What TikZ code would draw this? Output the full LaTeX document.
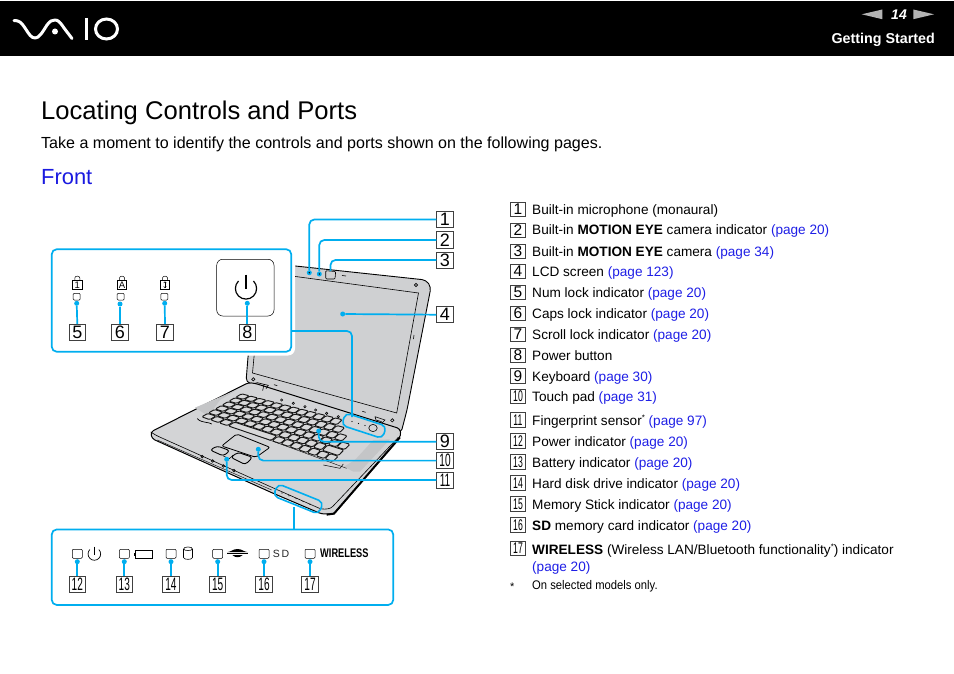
\documentclass[tikz,border=0pt]{standalone}
\usepackage{fontspec}
\setmainfont{Liberation Sans}
\usepackage{graphicx}
\definecolor{cy}{HTML}{00AEEF}
\definecolor{lnk}{HTML}{1F1FE6}
\definecolor{frontblue}{HTML}{1A1AE0}
\definecolor{lcd}{HTML}{CFD0D2}
\definecolor{deck}{HTML}{D3D4D6}
\definecolor{grille}{HTML}{C4C5C7}
\definecolor{keyc}{HTML}{D8D8D9}
\definecolor{navg}{HTML}{B4B4B4}
\newcommand{\lk}[1]{\textcolor{lnk}{#1}}
\newcommand{\nr}[1]{\scalebox{.56}[1]{#1}}
\tikzset{
  x=1pt,y=-1pt,
  numbig/.style={draw=black!75,fill=white,line width=1pt,minimum width=16.5pt,minimum height=16pt,inner sep=0pt,font=\fontsize{18}{18}\selectfont},
  numsm/.style={draw=black!75,fill=white,line width=.9pt,minimum width=14.5pt,minimum height=14.5pt,inner sep=0pt,font=\fontsize{15.5}{15.5}\selectfont},
  ltext/.style={anchor=base west,inner sep=0pt,font=\fontsize{13.6}{13.6}\selectfont},
  leader/.style={draw=cy,line width=1.7pt,rounded corners=5pt},
  leaddot/.style={circle,fill=cy,inner sep=0pt,minimum size=5pt},
  panelbox/.style={draw=cy,fill=white,line width=1.7pt,rounded corners=5pt,inner sep=0pt},
  ledbox/.style={draw=black,line width=.5pt,fill=white,rounded corners=1pt,inner sep=0pt},
  oval/.style={draw=cy,line width=1.6pt,rounded corners=5pt,inner sep=0pt},
  hl/.style={draw=black,line width=.6pt},
  keyb/.style={draw=black!90,fill=keyc,line width=.95pt,rounded corners=1.3pt},
  declare function={
    kx(\u,\v)=(1-\v)*((1-\u)*241.7+\u*368.3)+\v*((1-\u)*201+\u*333);
    ky(\u,\v)=(1-\v)*((1-\u)*393.5+\u*426)+\v*((1-\u)*417+\u*462);
  }
}
\begin{document}
\begin{tikzpicture}[x=1pt,y=-1pt]
\useasboundingbox (0,0) rectangle (954,674);
\fill[white] (0,0) rectangle (954,674);
% header
\fill[black] (0,1) rectangle (954,56);
\draw[white,line width=3pt,line cap=round,line join=round] (14,20.5) .. controls (19,20.5) and (21,22) .. (25,28) .. controls (29,34) and (31,38) .. (35,38) .. controls (39,38) and (42,33) .. (47,25) .. controls (50,21) and (52,20) .. (55,20) .. controls (58,20) and (60,22) .. (64,28) -- (72,38.5);
\fill[white] (55,31.5) circle (3);
\draw[white,line width=3pt] (86,18) -- (86,40);
\draw[white,line width=3pt] (106.5,29) ellipse (11 and 10);
\fill[navg] (861.7,14.3) -- (882.3,9.5) -- (882.3,19.2) -- cycle;
\fill[navg] (934,14.3) -- (913.3,9.5) -- (913.3,19.2) -- cycle;
\node[white,inner sep=0pt,font=\fontsize{14}{14}\selectfont\bfseries\itshape] (pg) at (899,14.5) {14};
\node[white,anchor=base east,inner sep=0pt,font=\fontsize{14.3}{14.3}\selectfont\bfseries] (gs) at (935,43.5) {Getting Started};
% titles
\node[anchor=base west,inner sep=0pt,font=\fontsize{25.6}{25.6}\selectfont] (title) at (41,119.5) {Locating Controls and Ports};
\node[anchor=base west,inner sep=0pt,font=\fontsize{16.05}{16.05}\selectfont] (intro) at (41,148.5) {Take a moment to identify the controls and ports shown on the following pages.};
\node[anchor=base west,inner sep=0pt,text=frontblue,font=\fontsize{21.9}{21.9}\selectfont] (front) at (41,184.5) {Front};
% list
\foreach \n/\c/\b/\t in {
 1/209.5/214.5/{Built-in microphone (monaural)},
 2/230.5/235/{Built-in \textbf{MOTION EYE} camera indicator \lk{(page 20)}},
 3/251.5/256/{Built-in \textbf{MOTION EYE} camera \lk{(page 34)}},
 4/271.5/276.5/{LCD screen \lk{(page 123)}},
 5/292.5/297/{Num lock indicator \lk{(page 20)}},
 6/313.5/318/{Caps lock indicator \lk{(page 20)}},
 7/334.5/339/{Scroll lock indicator \lk{(page 20)}},
 8/355.5/360/{Power button},
 9/376/381/{Keyboard \lk{(page 30)}}}
 {\node[numsm] (l\n) at (518,\c) {\n};
  \node[ltext] (t\n) at (532,\b) {\t};}
\foreach \n/\c/\b/\t in {
 10/396.3/401.5/{Touch pad \lk{(page 31)}},
 11/420/425.5/{Fingerprint sensor\raisebox{5pt}{\fontsize{8}{8}\selectfont*} \lk{(page 97)}},
 12/441/446/{Power indicator \lk{(page 20)}},
 13/462/467/{Battery indicator \lk{(page 20)}},
 14/483/488/{Hard disk drive indicator \lk{(page 20)}},
 15/504/509/{Memory Stick indicator \lk{(page 20)}},
 16/525/530/{\textbf{SD} memory card indicator \lk{(page 20)}},
 17/548.5/554/{\textbf{WIRELESS} (Wireless LAN/Bluetooth functionality\raisebox{5pt}{\fontsize{8}{8}\selectfont*}) indicator}}
 {\node[numsm] (l\n) at (518,\c) {\nr{\n}};
  \node[ltext] (t\n) at (532,\b) {\t};}
\node[ltext] (t17b) at (532,571) {\lk{(page 20)}};
\node[anchor=base west,inner sep=0pt,font=\fontsize{11}{11}\selectfont] (star) at (510,590) {*};
\node[anchor=base west,inner sep=0pt,font=\fontsize{12.5}{12.5}\selectfont] (fn) at (532,589.5) {\scalebox{.9}[1]{On selected models only.}};
% laptop lid
\fill[lcd,draw=black,line width=.9pt,rounded corners=4pt] (258,262) -- (426,280) -- (431,287) -- (407,410) -- (401,433) -- (246,382) -- (248,357) -- cycle;
\draw[black,line width=.6pt] (262,272) -- (418.5,293) -- (396.7,413) -- (252.5,373) -- cycle;
\draw[hl] (416,285) circle (1.6);
\draw[hl] (342,275.5) -- (346,276);
\draw[hl] (414,335) -- (413.5,339);
% laptop base
\begin{scope}[shift={(140,340)},x=.3333pt,y=-.3333pt]
 \fill[deck,draw=black,line width=1pt,rounded corners=3pt] (32,276) -- (325,128) -- (345,130) -- (780,266) -- (783,287) -- (582,522) -- (545,522) -- (395,458) -- (36,296) -- cycle;
 \draw[black,line width=.6pt,rounded corners=3pt] (32,276) -- (50,287) -- (400,444) -- (545,508) -- (572,506) -- (775,292);
 \draw[black,line width=.4pt] (52,300) -- (395,450);
 \draw[black,line width=2pt] (560,524) -- (582,521) -- (780,292);
 \fill[grille] (165,203) -- (290,150) -- (240,180) -- (205,228) -- cycle;
 \fill[grille] (612,380) -- (645,360) -- (700,300) -- (750,298) -- (660,395) -- (640,395) -- cycle;
 \draw[black,line width=.4pt] (225,240) -- (620,385);
 % hinge left and dash
 \draw[hl] (345,130) -- (352,128) -- (372,133) -- (368,152) (372,133) -- (385,136) -- (378,146);
 \draw[hl] (340,118) circle (5);
 \draw[hl] (402,134) -- (412,137);
 % hinge right etc.
 \draw[hl] (705,230) -- (735,240) -- (725,250) (705,230) -- (708,240) -- (725,245);
 \draw[hl] (667,214) -- (677,217);
 \draw[hl] (757,241) circle (5);
 \foreach \i/\j in {425/180,460/190,495/200,527/210,560/220,595/230}{\draw[hl] (\i,\j) circle (3.5);}
 \draw[black,line width=.7pt,line cap=round] (172,236) .. controls (180,245) and (190,245) .. (197,247) .. controls (205,250) and (210,247) .. (215,252);
 % touchpad
 \draw[black,line width=.8pt,rounded corners=2pt,fill=deck] (290,282) -- (390,322) -- (348,352) -- (245,318) -- cycle;
 \draw[black,line width=.9pt,rounded corners=3pt,fill=deck] (210,330) -- (232,318) -- (270,332) -- (250,348) -- cycle;
 \draw[black,line width=.9pt,rounded corners=3pt,fill=deck] (272,352) -- (294,337) -- (338,352) -- (316,374) -- cycle;
 \draw[black,line width=.5pt] (250,348) -- (268,356) -- (280,345);
 % front details
 \foreach \i/\j in {187/350,218/363,250/378,282/392}{\draw[hl] (\i,\j) circle (4);}
 \draw[black,line width=.5pt] (550,375) -- (600,385) -- (610,372);
\end{scope}
% keyboard
\foreach \r in {0,...,5}{
 \foreach \c in {0,...,14}{
  \pgfmathsetmacro{\ua}{(\c+.04)/15}
  \pgfmathsetmacro{\ub}{(\c+.96)/15}
  \pgfmathsetmacro{\va}{(\r+.06)/6}
  \pgfmathsetmacro{\vb}{(\r+.94)/6}
  \pgfmathtruncatemacro{\skip}{((\r==0)&&(\c>11))||((\r==1)&&(\c>12))||((\r==2)&&(\c>13))||((\r==5)&&(\c>2)&&(\c<8))||((\r==4)&&(\c>12))?1:0}
  \ifnum\skip=0
   \draw[keyb] ({kx(\ua,\va)},{ky(\ua,\va)}) -- ({kx(\ub,\va)},{ky(\ub,\va)}) -- ({kx(\ub,\vb)},{ky(\ub,\vb)}) -- ({kx(\ua,\vb)},{ky(\ua,\vb)}) -- cycle;
  \fi
 }
}
\draw[keyb] ({kx(.2053,.84)},{ky(.2053,.84)}) -- ({kx(.5280,.84)},{ky(.5280,.84)}) -- ({kx(.5280,.99)},{ky(.5280,.99)}) -- ({kx(.2053,.99)},{ky(.2053,.99)}) -- cycle;
\draw[keyb] ({kx(.8720,.673)},{ky(.8720,.673)}) -- ({kx(.9947,.673)},{ky(.9947,.673)}) -- ({kx(.9947,.827)},{ky(.9947,.827)}) -- ({kx(.8720,.827)},{ky(.8720,.827)}) -- cycle;
% ovals on the laptop
\node[oval,rotate=-18,minimum width=43pt,minimum height=13pt] (ov1) at (364,425.7) {};
\foreach \i/\j in {352/421.5,358.5/423.5,365/425.5}{\fill[black] (\i,\j) circle (.6);}
\draw[hl] (373,428) ellipse (4.2 and 3.6);
\node[oval,rotate=-22,minimum width=49pt,minimum height=13pt] (ov2) at (298.3,499) {};
\foreach \i/\j in {282/493,289/495.8,296/498.6,303/501.4,310/504.2}{\fill[black] (\i,\j) circle (.6);}
% panels with halo
\fill[white,rounded corners=7pt] (48,245.5) rectangle (295,355.5);
\fill[white,rounded corners=7pt] (48,525.5) rectangle (397,609);
\node[panelbox,minimum width=239.5pt,minimum height=102.5pt] (p1) at (171.5,300.5) {};
\node[panelbox,minimum width=341.5pt,minimum height=75.5pt] (p2) at (222.5,567.2) {};
% panel 1 contents
\draw[black,line width=.5pt,rounded corners=6pt,fill=white] (216.7,259.3) rectangle (274,316);
\draw[black,line width=1.2pt] (238.5,281) arc[start angle=225,end angle=-45,x radius=10.6,y radius=10.6];
\draw[black,line width=1.2pt] (246,274.5) -- (246,289);
\foreach \x in {77.3,122,165}{
 \draw[black,line width=.5pt,fill=white] (\x-4.7,280) rectangle (\x+4.7,289.3);
 \draw[black,line width=.5pt] (\x-2.5,280) -- (\x-2.5,278) .. controls (\x-2.5,275.5) and (\x+2.5,275.5) .. (\x+2.5,278) -- (\x+2.5,280);
}
\node[inner sep=0pt,font=\fontsize{9.5}{9.5}\selectfont] (g1) at (77.3,284.8) {1};
\node[inner sep=0pt,font=\fontsize{9.5}{9.5}\selectfont] (g2) at (122,284.8) {A};
\draw[black,line width=.8pt] (165,282) -- (165,287.5);
\draw[black,line width=.6pt] (163.7,283) -- (165,281.7) -- (166.3,283) (163.7,286.5) -- (165,287.8) -- (166.3,286.5);
\foreach \i/\x in {a/76.7,b/120.7,c/164.3}{\node[ledbox,minimum width=7pt,minimum height=6.6pt] (led\i) at (\x,296.7) {};}
% panel 2 contents
\foreach \i/\x in {a/77.3,b/124.3,c/171,d/217.7,e/264,f/310}{\node[ledbox,minimum width=10pt,minimum height=9pt] (lee\i) at (\x,553.8) {};}
\draw[black,line width=.7pt] (89.9,549.5) arc[start angle=225,end angle=-45,x radius=6.3,y radius=6.3];
\draw[black,line width=.7pt] (94.4,546.5) -- (94.4,554.5);
\draw[black,line width=.6pt] (135.5,550.7) rectangle (152.7,558);
\fill[black] (134,552.5) rectangle (135.5,556.2);
\draw[black,line width=.6pt] (183.5,549) -- (183.5,557.5) .. controls (183.5,560) and (192.5,560) .. (192.5,557.5) -- (192.5,549);
\draw[black,line width=.6pt] (183.5,549) .. controls (183.5,546.3) and (192.5,546.3) .. (192.5,549) .. controls (192.5,551) and (183.5,551) .. (183.5,549);
\fill[black] (227,552.2) .. controls (232,551.5) and (233,549) .. (237.5,549) .. controls (242,549) and (243,551.5) .. (248,552.2) -- cycle;
\fill[black] (226.7,553.2) rectangle (248.3,554.4);
\fill[black] (232.5,555.2) -- (242.5,555.2) .. controls (241,556.5) and (239.5,557.2) .. (237.5,557.2) .. controls (235.5,557.2) and (234,556.5) .. (232.5,555.2) -- cycle;
\node[anchor=west,inner sep=0pt,font=\fontsize{10.5}{10.5}\selectfont,text=black!85] (sd) at (272.7,553.8) {S\,D};
\node[anchor=west,inner sep=0pt,font=\fontsize{12.5}{12.5}\selectfont\bfseries] (wl) at (320,553.6) {\scalebox{.74}[1]{WIRELESS}};
% number boxes
\foreach \n/\x/\y in {1/445/219.5,2/445/240,3/445/260,4/445/314.7,5/77.3/332.7,6/120/332.7,7/165/332.7,8/247.3/332.7,9/445/441.7}
 {\node[numbig] (n\n) at (\x,\y) {\n};}
\foreach \n/\x/\y in {10/445/460.6,11/445/480,12/77.3/584.3,13/124.3/584.3,14/171/584.3,15/217.7/584.3,16/264/584.3,17/310/584.3}
 {\node[numbig] (n\n) at (\x,\y) {\nr{\n}};}
% dots
\foreach \n/\x/\y in {1/309.3/272.7,2/319.3/274,4/342.7/314,5/76.7/303.3,6/120/304,7/164.7/303.3,8/247.3/303.3,9/318.7/431,10/258.3/449.3,11/226.7/459.3,12/77.3/561.7,13/124.3/561.7,14/171/561.7,15/217.7/561.7,16/264/561.7,17/310/561.7}
 {\node[leaddot] (d\n) at (\x,\y) {};}
\coordinate (d3) at (330.5,271);
% camera drawn on lid
\draw[black,line width=.6pt,rounded corners=1pt,fill=lcd] (325.7,270.7) -- (335.7,271.5) -- (335,279) -- (325.7,279) -- cycle;
% connectors
\foreach \n in {1,2,3}{\draw[leader] (n\n.west) -| (d\n);}
\draw[leader] (n4.west) -- (d4);
\foreach \n in {5,6,7,8,12,13,14,15,16,17}{\draw[leader,rounded corners=0pt] (d\n) -- (n\n.north);}
\foreach \n in {9,10,11}{\draw[leader] (n\n.west) -| (d\n);}
\fill[black] (d1) circle (.8);
\fill[black] (d2) circle (.8);
\coordinate (c1) at (291.2,331);
\coordinate (c2) at (352,417);
\draw[leader] (c1) -| (c2);
\coordinate (c3) at (294,507);
\coordinate (c4) at (294,529.5);
\draw[leader,rounded corners=0pt] (c3) -- (c4);
\end{tikzpicture}
\end{document}
